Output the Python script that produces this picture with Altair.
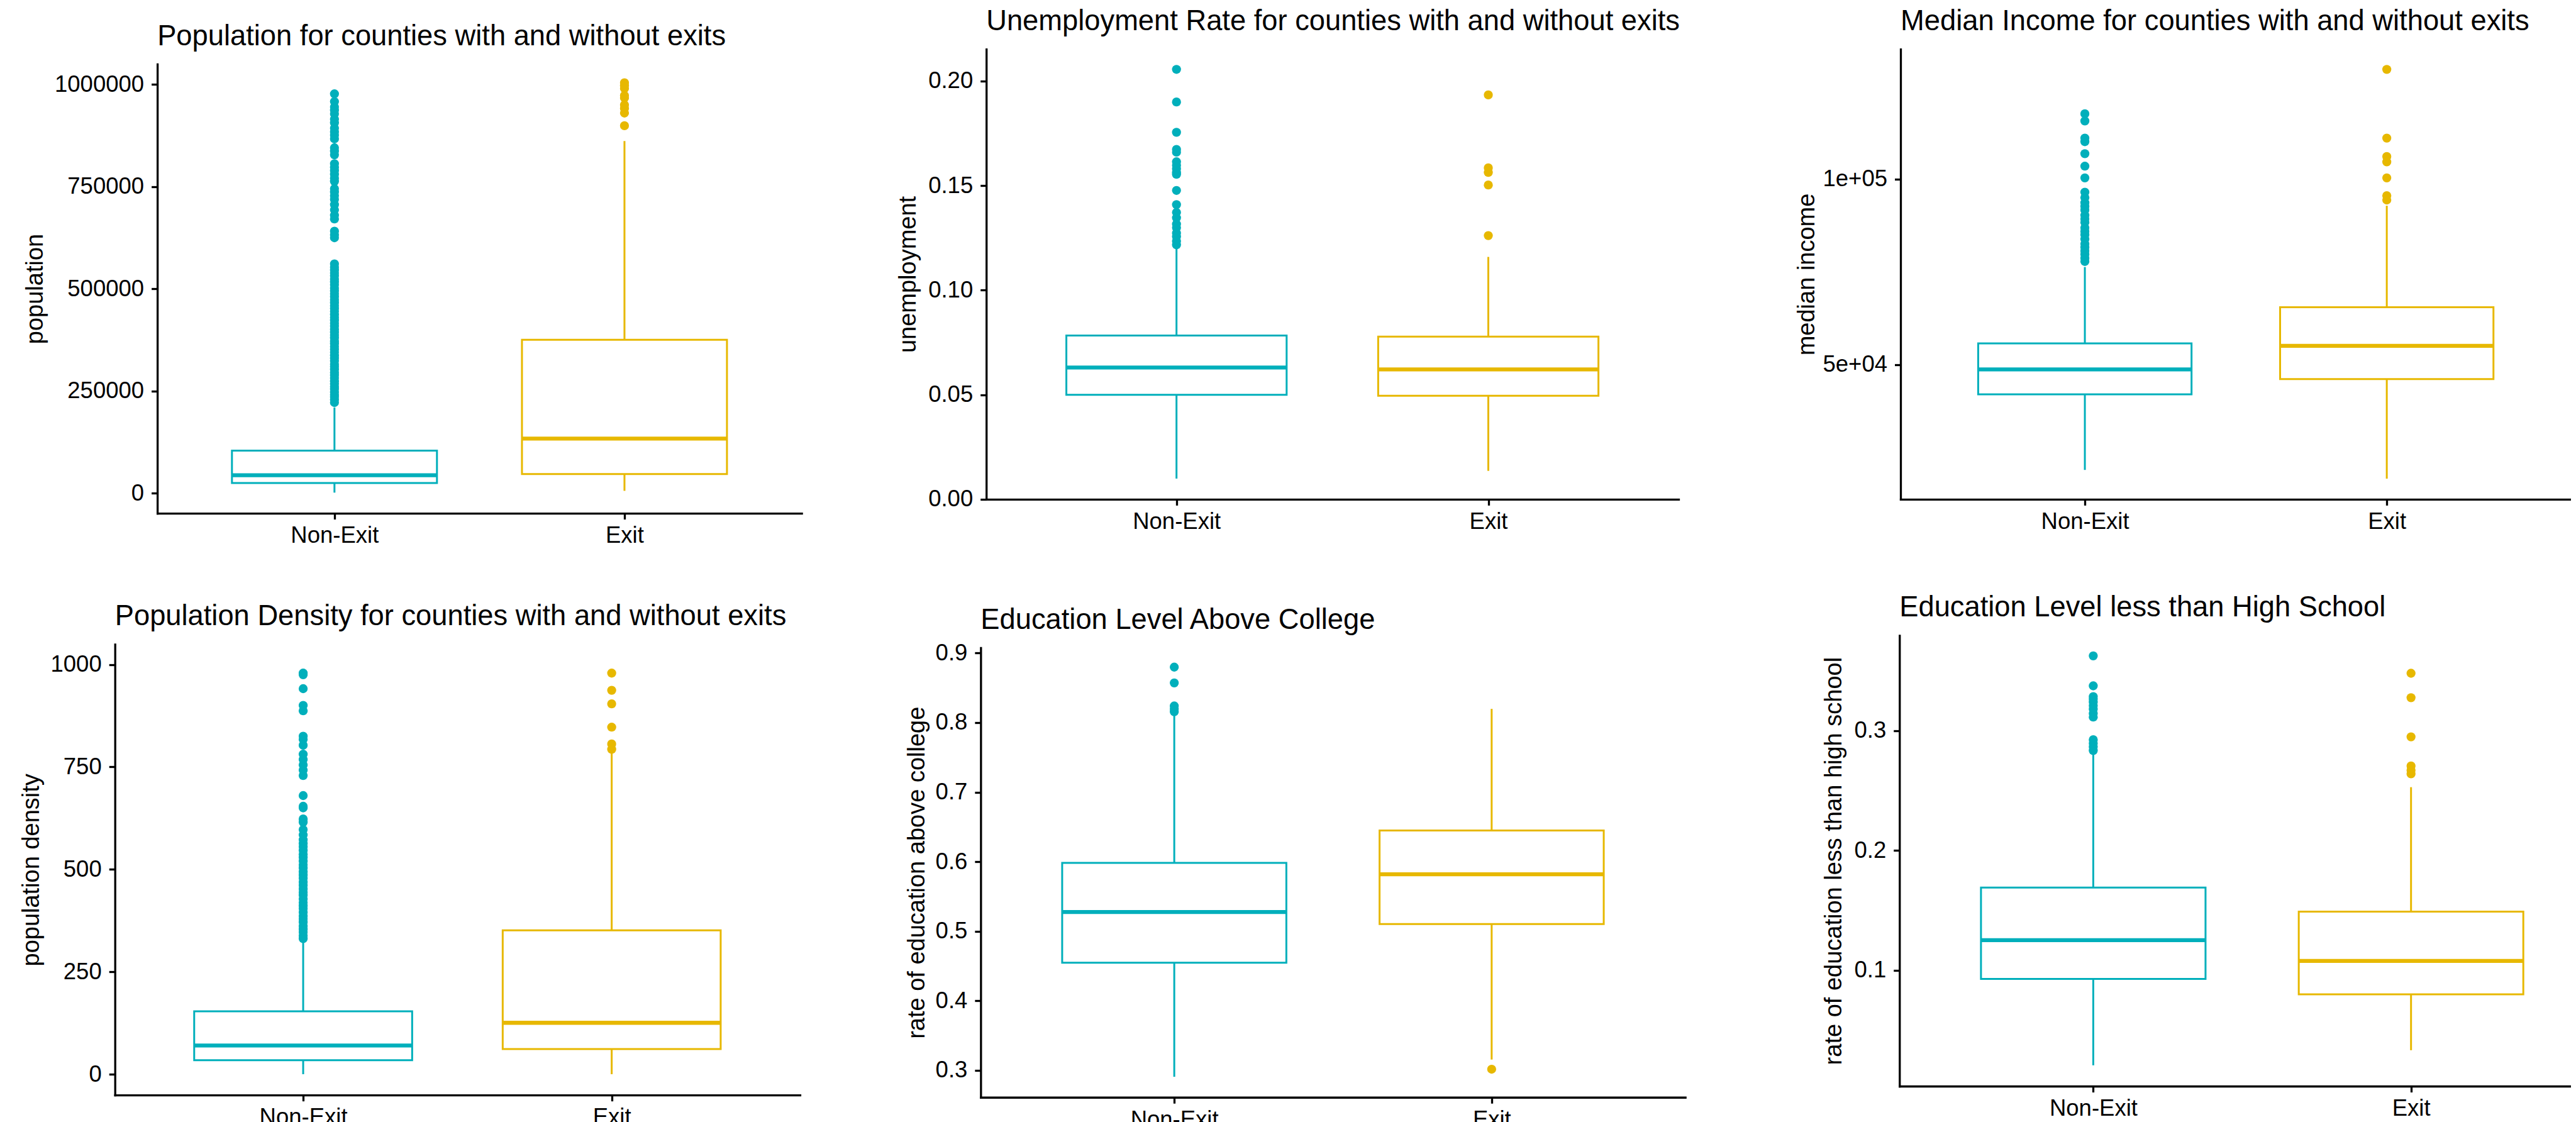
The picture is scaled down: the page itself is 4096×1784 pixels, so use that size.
import altair as alt
import pandas as pd

FONT = "Liberation Sans"
S = 0.887  # reference -> window scale

groups = ["Non-Exit", "Exit"]
group_colors = ["#00AFBB", "#E7B800"]

panel_titles = [
    "Population for counties with and without exits",
    "Unemployment Rate for counties with and without exits",
    "Median Income for counties with and without exits",
    "Population Density for counties with and without exits",
    "Education Level Above College",
    "Education Level less than High School",
]
y_titles = [
    "population",
    "unemployment",
    "median income",
    "population density",
    "rate of education above college",
    "rate of education less than high school",
]

# five-number boxes: [lower whisker, Q1, median, Q3, upper whisker]
population_nonexit_box = [1700, 25200, 44300, 104300, 210000]
population_exit_box = [6100, 47000, 133900, 375700, 861700]
population_nonexit_outliers = [
    222000, 229000, 236000, 241000, 248000, 255000, 261000, 268000, 274000, 282000,
    289000, 295000, 303000, 310000, 316000, 324000, 331000, 337000, 345000, 352000,
    359000, 366000, 372000, 380000, 387000, 394000, 401000, 409000, 416000, 423000,
    430000, 437000, 445000, 452000, 459000, 466000, 473000, 481000, 488000, 495000,
    502000, 510000, 517000, 524000, 532000, 539000, 546000, 553000, 561000,
    625000, 632000, 641000,
    671000, 680000, 693000, 706000, 719000, 728000, 737000, 745000,
    763000, 771000, 780000, 789000, 797000, 806000,
    828000, 837000, 845000,
    867000, 876000, 884000, 893000, 906000, 915000, 928000, 937000, 945000, 958000, 977000,
]
population_exit_outliers = [899000, 930000, 941000, 950000, 967000, 973000, 990000, 997000, 1004000]

unemployment_nonexit_box = [0.0099, 0.0500, 0.0630, 0.0783, 0.1205]
unemployment_exit_box = [0.0136, 0.0495, 0.0621, 0.0778, 0.1159]
unemployment_nonexit_outliers = [
    0.1217, 0.1234, 0.1256, 0.1273, 0.1299, 0.1316, 0.1346, 0.1372, 0.1409, 0.1477,
    0.1554, 0.1563, 0.1580, 0.1597, 0.1614, 0.1660, 0.1673, 0.1755, 0.1900, 0.2056,
]
unemployment_exit_outliers = [0.1261, 0.1503, 0.1563, 0.1585, 0.1934]

income_nonexit_box = [21700, 42050, 48750, 55750, 76300]
income_exit_box = [19350, 46150, 55100, 65500, 92800]
income_nonexit_outliers = [
    77800, 78700, 79700, 80650, 81600, 82550, 83800, 84950, 85900, 86900,
    88300, 89250, 90250, 91650, 92600, 93600, 95000, 96450, 100300, 103450,
    106800, 110050, 111000, 115600, 117550,
]
income_exit_outliers = [94350, 95500, 100300, 104600, 106050, 111000, 129500]

density_nonexit_box = [0, 34.2, 70.2, 153.6, 325]
density_exit_box = [0, 61.5, 125.5, 351.2, 785.8]
density_nonexit_outliers = [
    331, 338, 347, 354, 362, 371, 379, 386, 395, 404, 411, 419, 428, 437, 444,
    452, 461, 469, 478, 486, 494, 503, 511, 520, 529, 537, 546, 555, 563, 572,
    584, 597, 615, 623, 650, 654, 680, 729, 742, 755, 768, 781, 803, 817, 825,
    887, 900, 941, 975, 979,
]
density_exit_outliers = [793, 806, 847, 904, 937, 979]

college_nonexit_box = [0.2907, 0.4547, 0.5276, 0.5983, 0.8120]
college_exit_box = [0.3155, 0.5104, 0.5819, 0.6450, 0.8198]
college_nonexit_outliers = [0.8157, 0.8198, 0.8240, 0.8571, 0.8798]
college_exit_outliers = [0.3016]

highschool_nonexit_box = [0.0207, 0.0928, 0.1252, 0.1691, 0.2820]
highschool_exit_box = [0.0333, 0.0799, 0.1078, 0.1490, 0.2529]
highschool_nonexit_outliers = [
    0.2835, 0.2865, 0.2895, 0.2925, 0.3114, 0.3144, 0.3180, 0.3210, 0.3240,
    0.3264, 0.3285, 0.3375, 0.3625,
]
highschool_exit_outliers = [0.2640, 0.2670, 0.2706, 0.2949, 0.3276, 0.3480]

y_domains = [
    [-48700, 1049600],
    [0.0, 0.2153],
    [13800, 134960],
    [-50.9, 1049.2],
    [0.2612, 0.9078],
    [0.0033, 0.3796],
]
y_ticks = [
    [0, 250000, 500000, 750000, 1000000],
    [0.0, 0.05, 0.10, 0.15, 0.20],
    [50000, 100000],
    [0, 250, 500, 750, 1000],
    [0.3, 0.4, 0.5, 0.6, 0.7, 0.8, 0.9],
    [0.1, 0.2, 0.3],
]
y_label_exprs = [
    "format(datum.value, 'd')",
    "format(datum.value, '.2f')",
    "datum.value == 50000 ? '5e+04' : '1e+05'",
    "format(datum.value, 'd')",
    "format(datum.value, '.1f')",
    "format(datum.value, '.1f')",
]

# ---- layout (reference pixel coordinates) ----
panel_left = [282, 1768, 3407, 206, 1758, 3405]
panel_right = [1437, 3009, 4609, 1434, 3021, 4608]
panel_top = [115, 88, 88, 1155, 1161, 1139]
panel_bottom = [920, 895, 895, 1963, 1967, 1947]
x_domain_max = [2.6, 2.6, 2.6, 2.6, 2.6, 2.492]
ytitle_baseline = [76, 1641, 3252, 69.6, 1657, 3301]

CELL_W = 1360
CELL_H = 884
LINE_W = 3.0
MED_W = 6.3
AXIS_W = 3.3
TICK_FS = 36.5
AXTITLE_FS = 38
TITLE_FS = 45.3
POINT_SIZE = 205


def t(v):
    return v * S - 8


def make_panel(i, box_non, box_exit, out_non, out_exit):
    r, c = divmod(i, 3)
    gl = t(panel_left[i]) - c * CELL_W
    gt = t(panel_top[i]) - r * CELL_H
    w = (panel_right[i] - panel_left[i]) * S
    h = (panel_bottom[i] - panel_top[i]) * S
    xmax = x_domain_max[i]
    box_px = 0.7 * w / (xmax - 0.4)

    boxes = pd.DataFrame({
        "group": groups,
        "xpos": [1, 2],
        "lo": [box_non[0], box_exit[0]],
        "q1": [box_non[1], box_exit[1]],
        "med": [box_non[2], box_exit[2]],
        "q3": [box_non[3], box_exit[3]],
        "hi": [box_non[4], box_exit[4]],
    })
    outl = pd.DataFrame({
        "group": ["Non-Exit"] * len(out_non) + ["Exit"] * len(out_exit),
        "xpos": [1] * len(out_non) + [2] * len(out_exit),
        "value": list(out_non) + list(out_exit),
    })

    xscale = alt.Scale(domain=[0.4, xmax], range=[gl, gl + w], nice=False, zero=False)
    yscale = alt.Scale(domain=y_domains[i], range=[gt + h, gt], nice=False, zero=False)
    xaxis = alt.Axis(
        values=[1, 2],
        labelExpr="datum.value == 1 ? 'Non-Exit' : 'Exit'",
        title=None, grid=False, offset=-(CELL_H - (gt + h)),
        domainColor="black", domainWidth=AXIS_W, domainCap="square",
        tickColor="black", tickWidth=AXIS_W, tickSize=9.5,
        labelColor="black", labelFont=FONT, labelFontSize=TICK_FS,
        labelPadding=8, labelFlush=False, labelOverlap=False,
    )
    yaxis = alt.Axis(
        values=y_ticks[i], labelExpr=y_label_exprs[i],
        title=y_titles[i], grid=False, offset=-gl,
        domainColor="black", domainWidth=AXIS_W, domainCap="square",
        tickColor="black", tickWidth=AXIS_W, tickSize=9.5,
        labelColor="black", labelFont=FONT, labelFontSize=TICK_FS,
        labelPadding=12, labelFlush=False, labelOverlap=False,
        titleFont=FONT, titleFontSize=AXTITLE_FS, titleFontWeight="normal",
        titleColor="black", titleAngle=270, titleBaseline="alphabetic",
        titleAlign="center", titleX=(ytitle_baseline[i] - panel_left[i]) * S,
        titleY=gt + h / 2,
    )
    color = alt.Color("group:N", scale=alt.Scale(domain=groups, range=group_colors), legend=None)
    stroke = alt.Stroke("group:N", scale=alt.Scale(domain=groups, range=group_colors), legend=None)
    X = alt.X("xpos:Q", scale=xscale, axis=xaxis)

    def Y(field):
        return alt.Y(field, type="quantitative", scale=yscale, axis=yaxis)

    base = alt.Chart(boxes)
    whisker_lo = base.mark_rule(strokeWidth=LINE_W).encode(x=X, y=Y("lo"), y2="q1", color=color)
    whisker_hi = base.mark_rule(strokeWidth=LINE_W).encode(x=X, y=Y("q3"), y2="hi", color=color)
    box = base.mark_bar(size=box_px, fill="white", strokeWidth=LINE_W).encode(
        x=X, y=Y("q1"), y2="q3", stroke=stroke)
    median = base.mark_tick(orient="horizontal", size=box_px, thickness=MED_W, opacity=1).encode(
        x=X, y=Y("med"), color=color)
    points = alt.Chart(outl).mark_circle(size=POINT_SIZE, opacity=1).encode(
        x=X, y=Y("value"), color=color)
    title = alt.Chart(pd.DataFrame({"title": [panel_titles[i]]})).mark_text(
        align="left", baseline="alphabetic", font=FONT, fontSize=TITLE_FS, color="black"
    ).encode(text="title:N", x=alt.value(gl), y=alt.value(gt - 30))

    return alt.layer(whisker_lo, whisker_hi, box, median, points, title).properties(
        width=CELL_W, height=CELL_H)


panels = [
    make_panel(0, population_nonexit_box, population_exit_box,
               population_nonexit_outliers, population_exit_outliers),
    make_panel(1, unemployment_nonexit_box, unemployment_exit_box,
               unemployment_nonexit_outliers, unemployment_exit_outliers),
    make_panel(2, income_nonexit_box, income_exit_box,
               income_nonexit_outliers, income_exit_outliers),
    make_panel(3, density_nonexit_box, density_exit_box,
               density_nonexit_outliers, density_exit_outliers),
    make_panel(4, college_nonexit_box, college_exit_box,
               college_nonexit_outliers, college_exit_outliers),
    make_panel(5, highschool_nonexit_box, highschool_exit_box,
               highschool_nonexit_outliers, highschool_exit_outliers),
]

chart = alt.concat(*panels, columns=3, spacing=0, bounds="flush").properties(
    padding=0, background="white"
).configure_view(stroke=None)

chart.save("out.html", embed_options={"renderer": "svg", "actions": False})
